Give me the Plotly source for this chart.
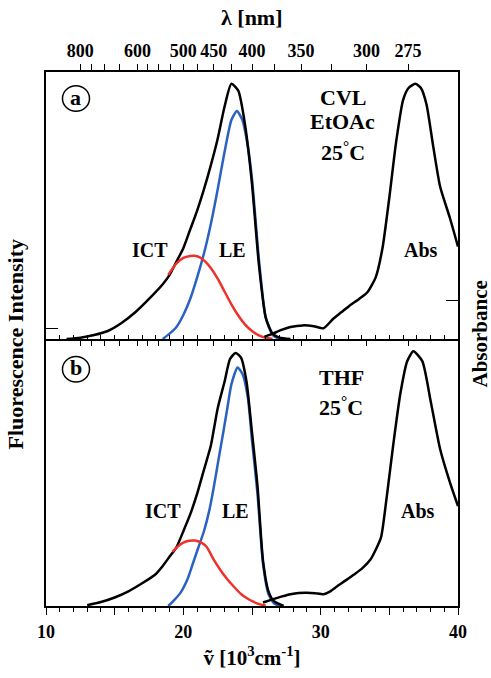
import plotly.graph_objects as go

# ---------------- data (y in % of panel height) -------------
# panel (a): CVL in EtOAc
a_fl_x = [11.5, 12.5, 13.5, 14.5, 15.5, 16.5, 17.5, 18.5, 19.0, 19.5, 20.0, 20.5, 21.0,
          21.5, 22.0, 22.5, 23.0, 23.5, 24.0, 24.5, 25.0, 25.5, 26.0, 26.5, 27.0, 27.8]
a_fl_y = [0, 0.5, 1.5, 3, 6, 10, 15, 20.5, 24, 29, 34, 41, 48,
          56, 65, 75, 87, 95.6, 93, 80, 58, 28, 8, 2, 0.5, 0]
a_le_x = [18.5, 19.0, 19.5, 20.0, 20.5, 21.0, 21.5, 22.0, 22.5, 23.0, 23.5, 23.9,
          24.3, 24.7, 25.0, 25.5, 26.0, 26.5, 27.0]
a_le_y = [0, 2, 4.5, 9, 15, 23, 32, 43, 56, 70, 82, 85.4,
          82, 72, 60, 30, 8, 1.5, 0]
a_ict_x = [18.9, 19.5, 20.0, 20.5, 20.8, 21.2, 21.6, 22.0, 22.5, 23.0, 23.5, 24.0,
           24.5, 25.0, 25.5, 26.0, 26.5]
a_ict_y = [24, 28.3, 30.4, 31.1, 31.2, 30.6, 29.0, 26.6, 22.6, 17.8, 13.0, 8.8,
           5.4, 3.0, 1.4, 0.5, 0]
a_abs_x = [25.9, 26.5, 27.2, 27.8, 28.7, 29.5, 30.2, 30.9, 31.5, 32.1, 32.8, 33.4, 34.0,
           34.5, 35.0, 35.5, 36.0, 36.4, 36.9, 37.3, 37.7, 38.2, 38.7, 39.4, 40.0]
a_abs_y = [0.8, 2, 3.5, 4.5, 5.1, 4.8, 4, 7.5, 10, 12.5, 15, 17.5, 23,
           34, 53, 74, 89.5, 94, 95.6, 94, 88, 72, 57, 45.5, 34.6]

# panel (b): CVL in THF
b_fl_x = [13.0, 14.0, 15.0, 16.0, 17.0, 18.0, 18.5, 19.0, 19.5, 20.0, 20.5, 21.0, 21.5,
          22.0, 22.5, 23.0, 23.4, 23.8, 24.2, 24.6, 25.0, 25.4, 25.8, 26.2, 26.6, 27.3]
b_fl_y = [0.3, 1.5, 3.2, 5.5, 8.5, 12, 15, 18.5, 22, 28, 34.3, 42, 51,
          60, 74, 84, 92.5, 94.8, 93, 84, 65, 45, 17, 5.5, 1.8, 0]
b_le_x = [18.9, 19.3, 19.8, 20.3, 20.7, 21.1, 21.5, 21.9, 22.2, 22.6, 22.9, 23.2, 23.5,
          23.95, 24.3, 24.7, 25.0, 25.4, 25.8, 26.2, 26.6, 27.0]
b_le_y = [0, 2, 5, 10, 16, 22, 28, 36, 44, 56, 64.8, 74, 83,
          89.3, 87, 78, 62, 42, 16, 4.5, 1, 0]
b_ict_x = [19.2, 19.6, 20.0, 20.4, 20.85, 21.3, 21.7, 22.2, 22.7, 23.2, 23.65, 24.2,
           24.6, 25.1, 25.6, 26.0]
b_ict_y = [20.3, 22.3, 23.7, 24.4, 24.5, 23.7, 22.1, 17.5, 13.5, 10.0, 7.4, 4.5,
           3.0, 1.6, 0.6, 0.2]
b_abs_x = [25.8, 26.5, 27.2, 27.8, 28.4, 29.0, 29.6, 30.2, 30.7, 31.2, 31.8, 32.4, 33.0,
           33.6, 34.0, 34.4, 34.8, 35.3, 35.8, 36.3, 36.75, 37.4, 38.0, 38.7, 39.4, 40.0]
b_abs_y = [1.3, 2.5, 3.6, 4.4, 4.9, 5, 4.8, 4.4, 5.5, 7.4, 9.5, 11.7, 14,
           17.2, 21, 25.8, 40.4, 61, 79.5, 91.7, 95.4, 91.7, 77, 58.7, 46.5, 37.4]

# axis ticks
nu_major = [10, 15, 20, 25, 30, 35, 40]
nu_labels = ["10", "", "20", "", "30", "", "40"]
lam_ticks = [800, 750, 700, 650, 600, 575, 550, 525, 500, 475, 450, 425, 400, 375,
             350, 325, 300, 275]
lam_labelled = [800, 600, 500, 450, 400, 350, 300, 275]
lam_vals = [1e4 / l for l in lam_ticks]
lam_text = [str(l) if l in lam_labelled else "" for l in lam_ticks]

# ---------------- styling -------------
FONT = "Liberation Serif, Times New Roman, serif"
BLACK = "#000000"
BLUE = "#2b62c2"
RED = "#f0302a"
LW = 2.5

fig = go.Figure()

def add(x, y, color, xa, ya):
    fig.add_trace(go.Scatter(x=x, y=y, mode="lines", xaxis=xa, yaxis=ya,
                             line=dict(color=color, width=LW, shape="spline", smoothing=0.6),
                             showlegend=False, hoverinfo="skip"))

# top panel (a)
add(a_le_x, a_le_y, BLUE, "x2", "y2")
add(a_fl_x, a_fl_y, BLACK, "x2", "y2")
add(a_ict_x, a_ict_y, RED, "x2", "y2")
add(a_abs_x, a_abs_y, BLACK, "x3", "y3")
# bottom panel (b)
add(b_le_x, b_le_y, BLUE, "x", "y")
add(b_fl_x, b_fl_y, BLACK, "x", "y")
add(b_ict_x, b_ict_y, RED, "x", "y")
add(b_abs_x, b_abs_y, BLACK, "x4", "y4")

tickfont = dict(family=FONT, size=18, color=BLACK, weight="bold")
frame = dict(showline=True, linecolor=BLACK, linewidth=1.5, mirror=True,
             showgrid=False, zeroline=False)
minor_in = dict(tickmode="linear", tick0=10, dtick=1, ticks="inside", ticklen=4,
                tickcolor=BLACK, tickwidth=1.2, showgrid=False)
minor_out = dict(minor_in, ticks="outside")

fig.update_layout(
    width=491, height=678, autosize=False,
    margin=dict(l=46, r=33, t=72, b=61),
    paper_bgcolor="white", plot_bgcolor="white",
    font=dict(family=FONT, color=BLACK),
    # bottom panel wavenumber axis (labelled)
    xaxis=dict(frame, mirror=False, range=[10, 40], anchor="y", domain=[0, 1],
               tickmode="array", tickvals=nu_major, ticktext=nu_labels,
               ticks="outside", ticklen=7, tickwidth=1.2, tickcolor=BLACK,
               tickfont=tickfont, minor=minor_out, ticklabelstandoff=2,
               title=dict(text="ṽ [10<sup>3</sup>cm<sup>-1</sup>]",
                          font=dict(family=FONT, size=21, weight="bold"), standoff=9)),
    # top panel wavenumber ticks (inside, no labels)
    xaxis2=dict(frame, range=[10, 40], anchor="y2", domain=[0, 1],
                tickmode="array", tickvals=nu_major, ticktext=[""] * 7,
                ticks="inside", ticklen=7, tickwidth=1.2, tickcolor=BLACK,
                showticklabels=False, minor=minor_in),
    # top wavelength axis
    xaxis3=dict(range=[10, 40], overlaying="x2", side="top", anchor="y2",
                showline=False, showgrid=False, zeroline=False,
                tickmode="array", tickvals=lam_vals, ticktext=lam_text,
                ticks="outside", ticklen=7, tickwidth=1.2, tickcolor=BLACK,
                tickfont=tickfont),
    # wavelength ticks inside the top of bottom panel
    xaxis4=dict(range=[10, 40], overlaying="x", side="top", anchor="y",
                showline=False, showgrid=False, zeroline=False,
                tickmode="array", tickvals=lam_vals, ticktext=[""] * len(lam_vals),
                ticks="inside", ticklen=7, tickwidth=1.2, tickcolor=BLACK,
                showticklabels=False),
    yaxis=dict(frame, range=[0, 100], domain=[0, 0.5], anchor="x",
               showticklabels=False, ticks=""),
    yaxis2=dict(frame, range=[0, 100], domain=[0.5, 1], anchor="x2",
                showticklabels=False, tickmode="array", tickvals=[4],
                ticks="inside", ticklen=12, tickwidth=1.2, tickcolor=BLACK),
    yaxis3=dict(range=[0, 100], overlaying="y2", side="right", anchor="x2",
                showline=False, showgrid=False, zeroline=False,
                showticklabels=False, tickmode="array", tickvals=[14.3],
                ticks="inside", ticklen=12, tickwidth=1.2, tickcolor=BLACK),
    yaxis4=dict(range=[0, 100], overlaying="y", side="right", anchor="x",
                showline=False, showgrid=False, zeroline=False,
                showticklabels=False, ticks=""),
)

lab = dict(family=FONT, size=20, color=BLACK, weight="bold")
big = dict(family=FONT, size=22, color=BLACK, weight="bold")
ann = []
def txt(x, y, s, xr, yr, f=lab):
    ann.append(dict(x=x, y=y, xref=xr, yref=yr, text=s, showarrow=False, font=f,
                    xanchor="center", yanchor="middle"))

# panel (a) labels
txt(17.6, 33.5, "ICT", "x2", "y2")
txt(23.6, 33.5, "LE", "x2", "y2")
txt(37.3, 33.5, "Abs", "x2", "y2")
txt(31.6, 90.5, "CVL", "x2", "y2", big)
txt(31.6, 81.5, "EtOAc", "x2", "y2", big)
txt(31.6, 70.5, "25<sup>°</sup>C", "x2", "y2", big)
# panel (b) labels
txt(18.5, 35.5, "ICT", "x", "y")
txt(23.8, 35.5, "LE", "x", "y")
txt(37.1, 35.5, "Abs", "x", "y")
txt(31.5, 85.7, "THF", "x", "y", big)
txt(31.5, 75.0, "25<sup>°</sup>C", "x", "y", big)
# circled panel letters
txt(0.0728, 0.953, "a", "paper", "paper", dict(lab, size=22))
txt(0.0728, 0.447, "b", "paper", "paper", dict(lab, size=22))
# axis titles
ann.append(dict(x=0.5, y=1, xref="paper", yref="paper", yshift=40, yanchor="bottom",
                xanchor="center", text="λ [nm]", showarrow=False, font=big))
ann.append(dict(x=-0.075, y=0.49, xref="paper", yref="paper", textangle=-90,
                xanchor="center", yanchor="middle",
                text="Fluorescence Intensity", showarrow=False, font=dict(big, size=22)))
ann.append(dict(x=1.053, y=0.51, xref="paper", yref="paper", textangle=-90,
                xanchor="center", yanchor="middle",
                text="Absorbance", showarrow=False, font=dict(big, size=21)))
fig.update_layout(annotations=ann)

fig.update_layout(shapes=[
    dict(type="circle", xref="paper", yref="paper", x0=0.0400, x1=0.1056,
         y0=0.9266, y1=0.9743, line=dict(color=BLACK, width=1.5)),
    dict(type="circle", xref="paper", yref="paper", x0=0.0400, x1=0.1056,
         y0=0.4196, y1=0.4673, line=dict(color=BLACK, width=1.5)),
])

fig.write_html("out.html", config={"displayModeBar": False},
               post_script="document.body.style.margin='0';"
                           "document.body.style.overflow='hidden';")
